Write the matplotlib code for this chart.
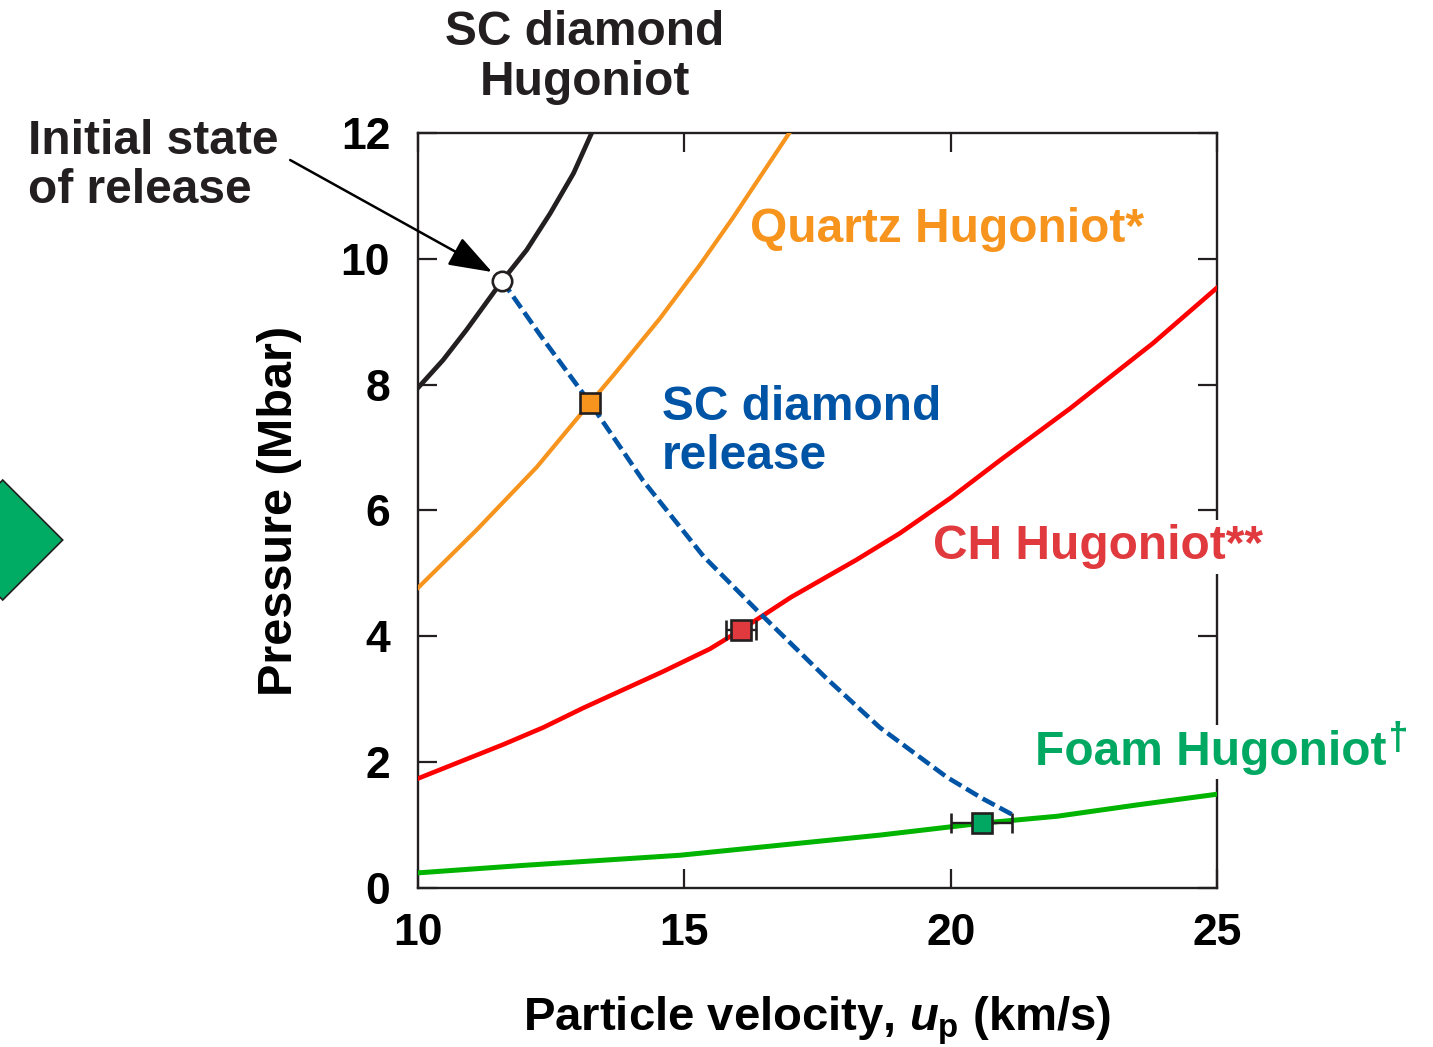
import numpy as np
import matplotlib
matplotlib.use('Agg')
import matplotlib.pyplot as plt
from matplotlib.patches import Polygon

plt.rcParams['font.family'] = ['Liberation Sans', 'DejaVu Sans']
plt.rcParams['font.weight'] = 'bold'
plt.rcParams['mathtext.fontset'] = 'custom'
plt.rcParams['mathtext.it'] = 'Liberation Sans:italic:bold'
plt.rcParams['mathtext.rm'] = 'Liberation Sans:bold'

# Hugoniot curves, up (km/s) vs pressure (Mbar)
diamond_up = [10.0, 10.47, 10.91, 11.58, 12.04, 12.48, 12.92, 13.26]
diamond_p = [7.95, 8.39, 8.87, 9.65, 10.14, 10.72, 11.36, 12.0]

quartz_up = [10.0, 11.1, 12.23, 13.23, 13.67, 14.54, 15.29, 15.91, 16.97]
quartz_p = [4.77, 5.69, 6.69, 7.71, 8.15, 9.05, 9.9, 10.65, 12.0]

ch_up = [10.0, 11.6, 12.35, 13.1, 14.6, 15.48, 16.06, 17.0, 18.24, 19.05, 20.0, 20.93, 22.24, 23.8, 25.0]
ch_p = [1.74, 2.28, 2.55, 2.86, 3.44, 3.80, 4.10, 4.62, 5.22, 5.64, 6.2, 6.8, 7.62, 8.66, 9.54]

foam_up = [10.0, 12.0, 14.92, 18.67, 20.59, 22.0, 23.5, 25.0]
foam_p = [0.24, 0.36, 0.52, 0.84, 1.03, 1.14, 1.32, 1.49]

# release path of the diamond from its initial state
release_up = [11.58, 12.3, 13.23, 14.22, 15.36, 16.39, 17.67, 18.67, 19.93, 20.6, 21.17]
release_p = [9.65, 8.78, 7.71, 6.48, 5.27, 4.39, 3.33, 2.55, 1.76, 1.42, 1.16]

# measured states
init_up, init_p = 11.58, 9.65
quartz_pt = (13.23, 7.71)
ch_pt = (16.06, 4.10, 0.28)
foam_pt = (20.58, 1.03, 0.58)

c_black = '#231f20'
c_orange = '#f7941d'
c_red_line = '#ff0000'
c_red = '#e03a3e'
c_blue = '#0054a6'
c_green_line = '#00b400'
c_green = '#00a862'

fig = plt.figure(figsize=(14.33, 10.47), dpi=100)
ax = fig.add_axes([0.2917, 0.1519, 0.5576, 0.7211])

ax.plot(diamond_up, diamond_p, color=c_black, lw=3.4, zorder=3, solid_joinstyle='round')
ax.plot(quartz_up, quartz_p, color=c_orange, lw=3.0, zorder=3, solid_joinstyle='round')
ax.plot(ch_up, ch_p, color=c_red_line, lw=3.3, zorder=3, solid_joinstyle='round')
ax.plot(foam_up, foam_p, color=c_green_line, lw=3.6, zorder=3, solid_joinstyle='round')
ax.plot(release_up, release_p, color=c_blue, lw=3.3, dashes=(3.0, 1.2), zorder=4)

ax.errorbar([ch_pt[0]], [ch_pt[1]], xerr=[ch_pt[2]], fmt='s', ms=14, mfc=c_red, mec=c_black,
            mew=1.9, ecolor=c_black, elinewidth=1.7, capsize=7, capthick=1.7, zorder=6)
ax.errorbar([foam_pt[0]], [foam_pt[1]], xerr=[foam_pt[2]], fmt='s', ms=14, mfc=c_green, mec=c_black,
            mew=1.9, ecolor=c_black, elinewidth=1.7, capsize=7, capthick=1.7, zorder=6)
ax.plot([quartz_pt[0]], [quartz_pt[1]], 's', ms=14, mfc=c_orange, mec=c_black, mew=1.9, zorder=6)
ax.plot([init_up], [init_p], 'o', ms=14, mfc='white', mec=c_black, mew=1.9, zorder=7)

ax.set_xlim(10, 25)
ax.set_ylim(0, 12)
ax.set_xticks([10, 15, 20, 25])
ax.set_yticks([0, 2, 4, 6, 8, 10, 12])
ax.tick_params(direction='in', length=14, width=1.6, color=c_black, labelsize=32,
               top=True, right=True)
ax.tick_params(axis='x', pad=18)
ax.tick_params(axis='y', pad=20)
for lab in ax.get_xticklabels() + ax.get_yticklabels():
    lab.set_fontweight('bold')
for s in ax.spines.values():
    s.set_linewidth(1.7)
    s.set_color(c_black)

ax.set_xlabel(r'Particle velocity, $\mathit{u}_\mathrm{p}$ (km/s)', fontsize=34, fontweight='bold')
ax.set_ylabel('Pressure (Mbar)', fontsize=35, fontweight='bold')
ax.xaxis.set_label_coords(0.5, -0.141)
ax.yaxis.set_label_coords(-0.145, 0.5)

# curve labels
ax.text(16.23, 10.47, 'Quartz Hugoniot*', color=c_orange, fontsize=34.5, fontweight='bold',
        ha='left', va='center')
ax.text(14.58, 7.25, 'SC diamond\nrelease', color=c_blue, fontsize=34.5, fontweight='bold',
        ha='left', va='center', linespacing=1.12)
ax.text(19.67, 5.42, 'CH Hugoniot**', color=c_red, fontsize=34.5, fontweight='bold',
        ha='left', va='center', zorder=5, clip_on=False,
        bbox=dict(facecolor='white', edgecolor='none', pad=3))
foam = ax.text(21.58, 2.16, 'Foam Hugoniot', color=c_green, fontsize=34.5, fontweight='bold',
               ha='left', va='center', zorder=5, clip_on=False,
               bbox=dict(facecolor='white', edgecolor='none', pad=3))
ax.annotate('\u2020', xy=(1, 1), xycoords=foam, xytext=(0, 6), textcoords='offset points',
            color=c_green, fontsize=28, fontweight='bold', ha='left', va='top')

ax.text(13.13, 13.2, 'SC diamond\nHugoniot', color=c_black, fontsize=34.5, fontweight='bold',
        ha='center', va='center', linespacing=1.12, clip_on=False)
ax.text(2.68, 11.47, 'Initial state\nof release', color=c_black, fontsize=34.5, fontweight='bold',
        ha='left', va='center', linespacing=1.12, clip_on=False)
ax.annotate('', xy=(11.39, 9.79), xytext=(7.6, 11.57), annotation_clip=False,
            arrowprops=dict(arrowstyle='-|>,head_length=0.9,head_width=0.32', color='black',
                            lw=1.8, mutation_scale=30, shrinkA=0, shrinkB=0))

# green arrow head at the left edge
W, H = 1433.0, 1047.0
pts = [(-57, 540), (2.7, 480), (62.7, 540), (2.7, 600)]
fig.patches.append(Polygon([(x / W, 1 - y / H) for x, y in pts], closed=True,
                           transform=fig.transFigure, facecolor='#00ab63',
                           edgecolor=c_black, lw=1.2))

fig.savefig('out.png', dpi=100)
